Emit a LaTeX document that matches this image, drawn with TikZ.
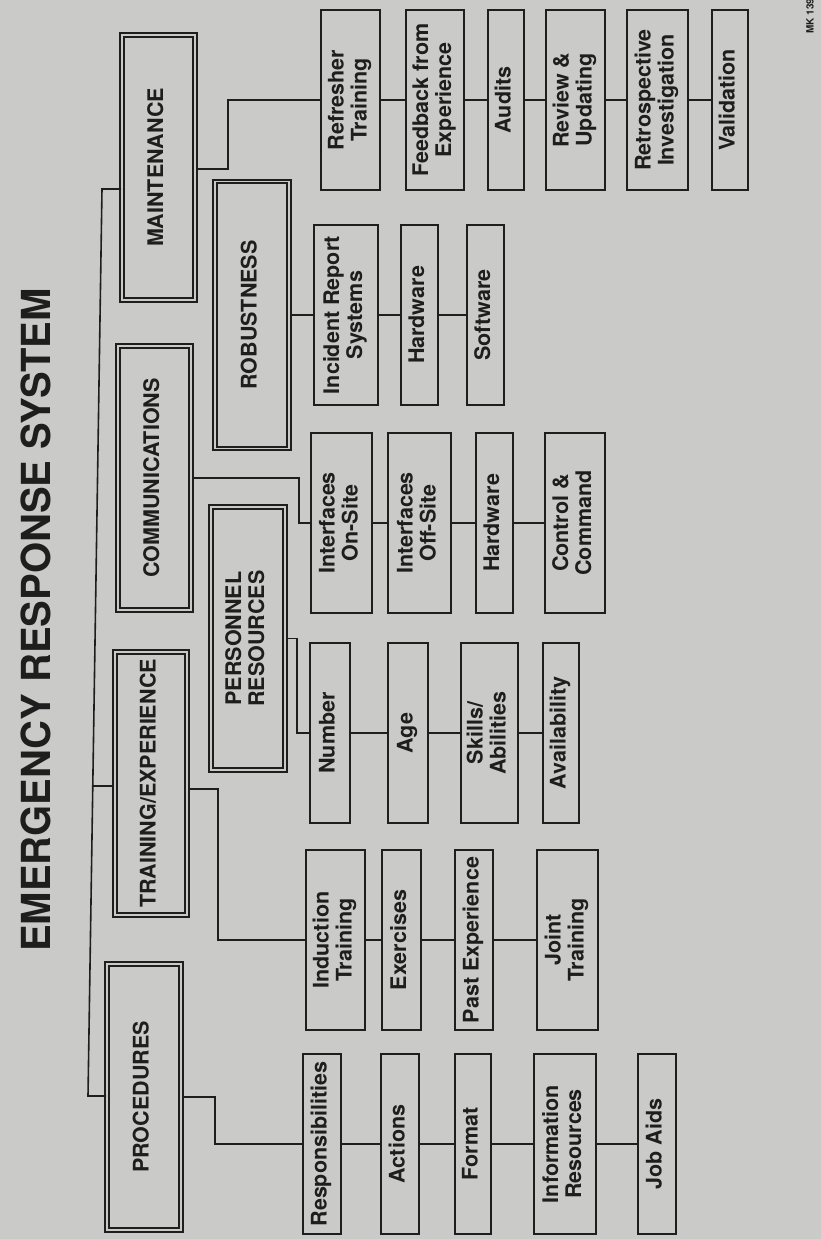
\documentclass[tikz,border=0pt]{standalone}
\usepackage{fontspec}
\setmainfont{TeX Gyre Heros}
\usepackage{graphicx}
\definecolor{bg}{RGB}{202,202,201}
\definecolor{ink}{RGB}{30,30,30}
\newcommand{\boxfont}{\fontsize{21.5}{23}\selectfont\bfseries}
\newcommand{\titlefont}{\fontsize{40}{40}\selectfont\bfseries}
\newcommand{\vt}[1]{\rotatebox{90}{\begin{tabular}{@{}c@{}}#1\end{tabular}}}
\tikzset{
  leaf/.style={draw=ink, line width=1.6pt, inner sep=0pt, minimum height=180pt, font=\boxfont, text=ink},
  dbl/.style={draw=ink, line width=2pt, double=bg, double distance=1.8pt, inner sep=0pt, font=\boxfont, text=ink},
  conn/.style={draw=ink, line width=1.6pt},
}
\begin{document}
\begin{tikzpicture}[x=1pt,y=-1pt]
\fill[bg] (0,0) rectangle (821,1239);
\useasboundingbox (0,0) rectangle (821,1239);

% title
\node[inner sep=0pt, text=ink] (title) at (36,620) {\rotatebox{90}{\titlefont EMERGENCY RESPONSE SYSTEM}};
\node[inner sep=0pt, text=ink, font=\fontsize{10}{10}\selectfont\bfseries] (mk) at (810,16) {\rotatebox{90}{MK 139}};

% top-level boxes
\node[dbl, minimum width=73pt, minimum height=265pt] (mn) at (158.5,167.5) {\vt{MAINTENANCE}};
\node[dbl, minimum width=73pt, minimum height=264pt] (cm) at (154.5,478) {\vt{COMMUNICATIONS}};
\node[dbl, minimum width=72pt, minimum height=263pt] (tr) at (151,783.5) {\vt{TRAINING/EXPERIENCE}};
\node[dbl, minimum width=74pt, minimum height=266pt] (pr) at (144,1097) {\vt{PROCEDURES}};

% second-level boxes
\node[dbl, minimum width=74pt, minimum height=267pt] (rb) at (252,315) {\vt{ROBUSTNESS}};
\node[dbl, minimum width=74pt, minimum height=263pt] (ps) at (248,638.5) {\vt{PERSONNEL\\RESOURCES}};

% maintenance row
\node[leaf, minimum width=59pt] (m1) at (350.5,100) {\vt{Refresher\\Training}};
\node[leaf, minimum width=58pt] (m2) at (435,100) {\vt{Feedback from\\Experience}};
\node[leaf, minimum width=36pt] (m3) at (506,100) {\vt{Audits}};
\node[leaf, minimum width=59pt] (m4) at (575.5,100) {\vt{Review \&\\Updating}};
\node[leaf, minimum width=61pt] (m5) at (657.5,100) {\vt{Retrospective\\Investigation}};
\node[leaf, minimum width=36pt] (m6) at (730,100) {\vt{Validation}};

% robustness row
\node[leaf, minimum width=64pt] (r1) at (346,315) {\vt{Incident Report\\Systems}};
\node[leaf, minimum width=37pt] (r2) at (419.5,315) {\vt{Hardware}};
\node[leaf, minimum width=37pt] (r3) at (485.5,315) {\vt{Software}};

% communications row
\node[leaf, minimum width=61pt] (c1) at (341.5,523) {\vt{Interfaces\\On-Site}};
\node[leaf, minimum width=63pt] (c2) at (419.5,523) {\vt{Interfaces\\Off-Site}};
\node[leaf, minimum width=37pt] (c3) at (494.5,523) {\vt{Hardware}};
\node[leaf, minimum width=60pt] (c4) at (575,523) {\vt{Control \&\\Command}};

% personnel row
\node[leaf, minimum width=40pt] (p1) at (330,733) {\vt{Number}};
\node[leaf, minimum width=40pt] (p2) at (408,733) {\vt{Age}};
\node[leaf, minimum width=57pt] (p3) at (489.5,733) {\vt{Skills/\\Abilities}};
\node[leaf, minimum width=36pt] (p4) at (561,733) {\vt{Availability}};

% training row
\node[leaf, minimum width=59pt] (t1) at (335.5,940) {\vt{Induction\\Training}};
\node[leaf, minimum width=39pt] (t2) at (401.5,940) {\vt{Exercises}};
\node[leaf, minimum width=38pt] (t3) at (474,940) {\vt{Past Experience}};
\node[leaf, minimum width=61pt] (t4) at (567.5,940) {\vt{Joint\\Training}};

% procedures row
\node[leaf, minimum width=38pt] (q1) at (322,1144) {\vt{Responsibilities}};
\node[leaf, minimum width=38pt] (q2) at (400,1144) {\vt{Actions}};
\node[leaf, minimum width=36pt] (q3) at (473,1144) {\vt{Format}};
\node[leaf, minimum width=62pt] (q4) at (565,1144) {\vt{Information\\Resources}};
\node[leaf, minimum width=38pt] (q5) at (657,1144) {\vt{Job Aids}};

% trunk
\coordinate (tA) at (102,189);
\coordinate (tB) at (88,1096);
\coordinate (tC) at (92.8,786);
\draw[conn] (mn.west |- tA) -- (tA) -- (tB) -- (pr.west |- tB);
\draw[conn] (tC) -- (tr.west |- tC);

% elbows
\coordinate (jm) at (228,169);
\coordinate (jc) at (299,478);
\coordinate (jp) at (297,638.5);
\coordinate (jt) at (218,789);
\coordinate (jq) at (215,1097);
\draw[conn] (mn.east |- jm) -- (jm) |- (m1.west);
\draw[conn] (cm.east |- jc) -- (jc) |- (c1.west);
\draw[conn] (ps.east |- jp) -- (jp) |- (p1.west);
\draw[conn] (tr.east |- jt) -- (jt) |- (t1.west);
\draw[conn] (pr.east |- jq) -- (jq) |- (q1.west);
\draw[conn] (rb.east) -- (r1.west);

% chains
\draw[conn] (m1.east) -- (m2.west) (m2.east) -- (m3.west) (m3.east) -- (m4.west) (m4.east) -- (m5.west) (m5.east) -- (m6.west);
\draw[conn] (r1.east) -- (r2.west) (r2.east) -- (r3.west);
\draw[conn] (c1.east) -- (c2.west) (c2.east) -- (c3.west) (c3.east) -- (c4.west);
\draw[conn] (p1.east) -- (p2.west) (p2.east) -- (p3.west) (p3.east) -- (p4.west);
\draw[conn] (t1.east) -- (t2.west) (t2.east) -- (t3.west) (t3.east) -- (t4.west);
\draw[conn] (q1.east) -- (q2.west) (q2.east) -- (q3.west) (q3.east) -- (q4.west) (q4.east) -- (q5.west);
\end{tikzpicture}
\end{document}
